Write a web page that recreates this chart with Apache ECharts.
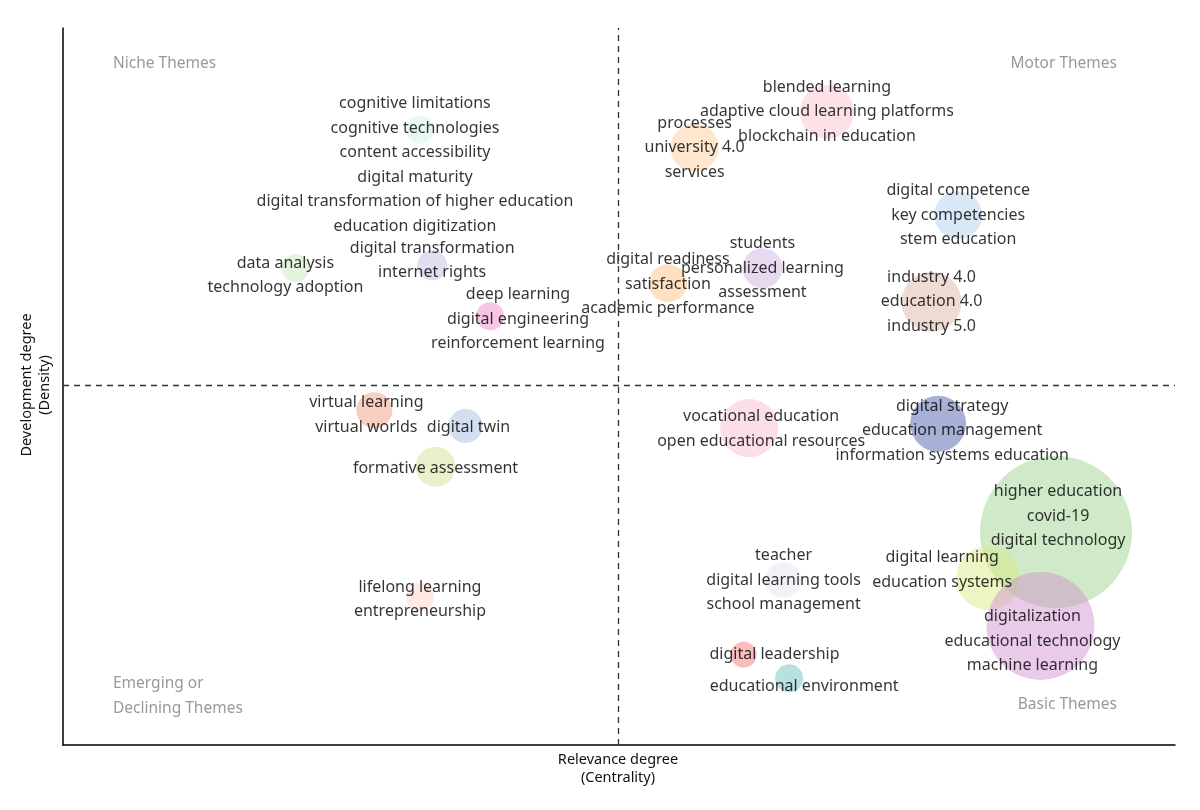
<!DOCTYPE html>
<html lang="en">
<head>
    <meta charset="UTF-8">
    <title>Thematic map</title>
    <style>
        body { margin: 0; background: #fff; }
        #main { width: 1200px; height: 810px; }
    </style>
</head>
<body>
    <div id="main"></div>
    <script src="https://cdn.jsdelivr.net/npm/echarts@6/dist/echarts.min.js"></script>
    <script>
        // cluster labels (terms of each theme)
        var themes = [
            ['cognitive limitations', 'cognitive technologies', 'content accessibility', 'digital maturity', 'digital transformation of higher education', 'education digitization'],
            ['data analysis', 'technology adoption'],
            ['digital transformation', 'internet rights'],
            ['deep learning', 'digital engineering', 'reinforcement learning'],
            ['processes', 'university 4.0', 'services'],
            ['blended learning', 'adaptive cloud learning platforms', 'blockchain in education'],
            ['digital competence', 'key competencies', 'stem education'],
            ['digital readiness', 'satisfaction', 'academic performance'],
            ['students', 'personalized learning', 'assessment'],
            ['industry 4.0', 'education 4.0', 'industry 5.0'],
            ['virtual learning', 'virtual worlds'],
            ['digital twin'],
            ['formative assessment'],
            ['lifelong learning', 'entrepreneurship'],
            ['vocational education', 'open educational resources'],
            ['digital strategy', 'education management', 'information systems education'],
            ['higher education', 'covid-19', 'digital technology'],
            ['digital learning', 'education systems'],
            ['digitalization', 'educational technology', 'machine learning'],
            ['teacher', 'digital learning tools', 'school management'],
            ['digital leadership'],
            ['educational environment']
        ];
        var centrality = [32.1, 20.9, 33.2, 38.4, 56.8, 68.7, 80.5, 54.4, 62.9, 78.1, 28.0, 36.2, 33.5, 32.1, 61.7, 78.7, 89.3, 83.2, 87.9, 64.8, 61.2, 65.3];
        var density = [85.8, 66.5, 66.9, 59.8, 83.3, 88.3, 73.9, 64.4, 66.5, 61.8, 46.7, 44.5, 38.8, 20.6, 44.2, 44.8, 29.7, 23.3, 16.6, 23.0, 12.6, 9.3];
        var sizes = [28, 28, 30, 28, 48, 54, 48, 38, 40, 60, 36, 34, 40, 28, 58, 56, 152, 64, 108, 36, 26, 28];

        var colors = ['#cdeee2', '#bfe3b0', '#b8b4dc', '#f07cc4', '#fcc890', '#f8bcc8', '#a8c8ec', '#fcb874', '#c8a8dc', '#d8b09c',
            '#f09070', '#9cb4e0', '#cce08c', '#fcd0c0', '#f8b4d0', '#3c4ca0', '#94d084', '#d8e87c', '#cc88cc', '#e4dcec', '#f06c6c', '#5cb8b8'];
        var labelOffsets = [[-5, 35], [-10, 7], [0, -5], [28, 3], [0, 0], [0, 0], [0, 0], [0, 1], [0, 0], [0, 0],
            [-8, 5], [3, 2], [0, 2], [0, 2], [12, 1], [14, 7], [2, -16], [-46, -8], [-8, 15], [0, 0], [31, 0], [15, 8]];

        function fade(hex, a) {
            var n = parseInt(hex.slice(1), 16);
            return 'rgba(' + (n >> 16) + ',' + ((n >> 8) & 255) + ',' + (n & 255) + ',' + a + ')';
        }

        var seriesData = [];
        for (var i = 0; i < themes.length; i++) {
            seriesData.push({
                value: [centrality[i], density[i], sizes[i]],
                itemStyle: { color: fade(colors[i], 0.55) },
                label: {
                    show: true,
                    position: 'inside',
                    offset: labelOffsets[i],
                    formatter: themes[i].join('\n'),
                    color: '#000',
                    fontSize: 16,
                    lineHeight: 24.5,
                    fontFamily: 'Noto Sans'
                }
            });
        }

        var myChart = echarts.init(document.getElementById('main'));
        var option = {
            animation: false,
            grid: { left: 63, right: 25, top: 28, bottom: 65 },
            xAxis: {
                type: 'value', min: 0, max: 100,
                axisLine: { lineStyle: { color: '#000', width: 1.5 } },
                axisTick: { show: false }, axisLabel: { show: false }, splitLine: { show: false }
            },
            yAxis: {
                type: 'value', min: 0, max: 100,
                axisLine: { show: true, lineStyle: { color: '#000', width: 1.5 } },
                axisTick: { show: false }, axisLabel: { show: false }, splitLine: { show: false }
            },
            graphic: [
                { type: 'text', left: 113, top: 56, style: { text: 'Niche Themes', fill: '#999', font: '15.5px "Noto Sans"' } },
                { type: 'text', right: 83, top: 56, style: { text: 'Motor Themes', fill: '#999', font: '15.5px "Noto Sans"' } },
                { type: 'text', left: 113, top: 671, style: { text: 'Emerging or\nDeclining Themes', fill: '#999', font: '15.5px "Noto Sans"', lineHeight: 25 } },
                { type: 'text', right: 83, top: 697, style: { text: 'Basic Themes', fill: '#999', font: '15.5px "Noto Sans"' } },
                { type: 'text', x: 618, y: 769, style: { text: 'Relevance degree\n(Centrality)', fill: '#111', font: '14.5px "Noto Sans"', align: 'center', verticalAlign: 'middle', lineHeight: 18 } },
                { type: 'text', x: 36, y: 385, rotation: Math.PI / 2, style: { text: 'Development degree\n(Density)', fill: '#111', font: '14.5px "Noto Sans"', align: 'center', verticalAlign: 'middle', lineHeight: 18 } }
            ],
            series: [{
                type: 'scatter',
                data: seriesData,
                symbolSize: function (v) { return v[2]; },
                markLine: {
                    silent: true, symbol: 'none', label: { show: false },
                    lineStyle: { color: '#333', type: [6, 5], width: 1.3 },
                    data: [{ xAxis: 49.9 }, { yAxis: 50.2 }]
                }
            }]
        };
        myChart.setOption(option);
    </script>
</body>
</html>
